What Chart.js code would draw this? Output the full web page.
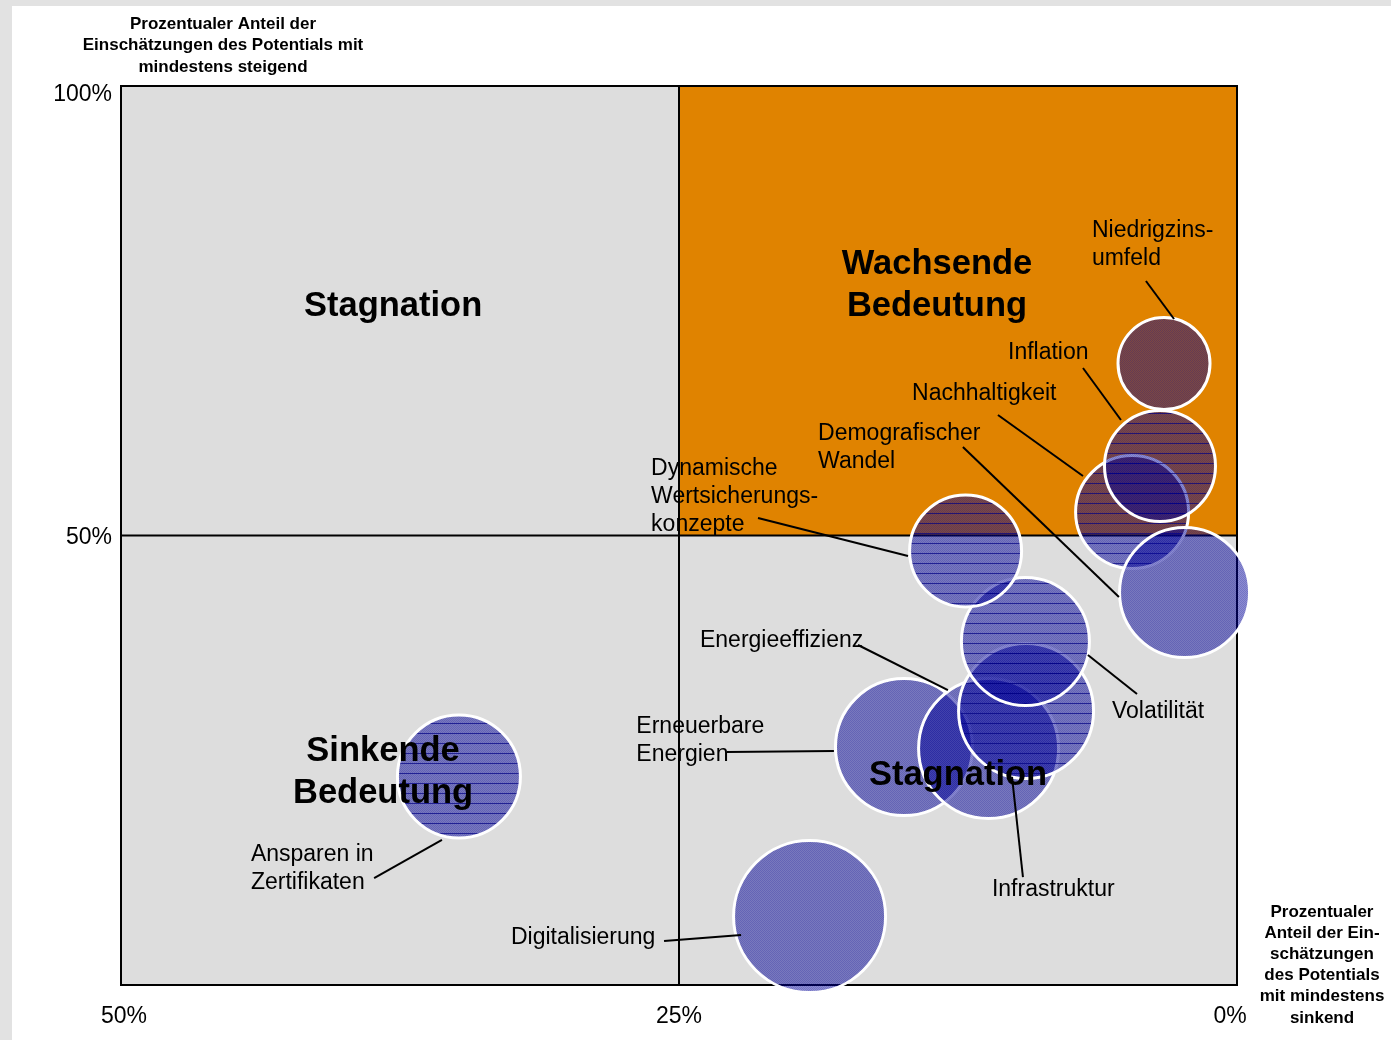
<!DOCTYPE html>
<html><head><meta charset="utf-8">
<script src="https://cdn.jsdelivr.net/npm/chart.js@4"></script>
<style>html,body{margin:0;padding:0;background:#fff;}canvas{display:block;}</style>
</head><body>
<canvas id="c" width="1391" height="1040"></canvas>
<script>
// ---- data (draw order) ----
const categories = ['Digitalisierung','Ansparen in Zertifikaten','Erneuerbare Energien','Energieeffizienz','Infrastruktur','Volatilität','Dynamische Wertsicherungskonzepte','Nachhaltigkeit','Demografischer Wandel','Inflation','Niedrigzinsumfeld'];
// x: % of estimates "at least falling" (axis reversed), y: % "at least rising"
const sinkendValues  = [19.15, 34.86, 14.92, 11.13, 9.45, 9.48, 12.16, 4.70, 2.35, 3.45, 3.27];
const steigendValues = [7.62, 23.19, 26.47, 26.31, 30.48, 38.21, 48.28, 52.61, 43.66, 57.73, 69.13];
const bubbleSizes    = [76, 61.5, 68.5, 70, 67.5, 64, 56, 56.5, 65, 55.5, 46];
const hatchedSeries  = [false, true, false, false, true, true, true, true, false, true, false];

// label texts (line-broken) with anchor of first line and leader line, in data units
const labelTexts = ['Digitalisierung', 'Ansparen in\nZertifikaten', 'Erneuerbare\nEnergien', 'Energieeffizienz', 'Infrastruktur', 'Volatilität', 'Dynamische\nWertsicherungs-\nkonzepte', 'Nachhaltigkeit', 'Demografischer\nWandel', 'Inflation', 'Niedrigzins-\numfeld'];
const labelX = [32.53, 44.18, 26.91, 24.06, 10.98, 5.60, 26.25, 14.56, 18.77, 10.26, 6.50];
const labelY = [5.45, 14.68, 28.92, 38.49, 10.79, 30.59, 57.62, 65.96, 61.51, 70.52, 84.09];
const leaderFrom = [[25.67,4.89],[38.66,11.90],[22.85,25.92],[16.98,37.82],[9.59,12.01],[4.48,32.37],[21.46,51.95],[10.71,63.40],[12.28,59.84],[6.90,68.63],[4.08,78.31]];
const leaderTo   = [[22.22,5.56],[35.62,16.13],[18.06,26.03],[12.95,32.81],[10.08,23.14],[6.68,36.71],[14.74,47.72],[6.90,56.62],[5.29,43.16],[5.20,62.85],[2.82,74.08]];

const quadrantTexts = ['Stagnation', 'Wachsende\nBedeutung', 'Sinkende\nBedeutung', 'Stagnation'];
const quadrantX = [37.81, 13.44, 38.26, 12.50];
const quadrantY = [75.75, 80.42, 26.25, 23.58];

const xTicks = [50, 25, 0];
const yTicks = [100, 50];
const xTickLabels = ['50%', '25%', '0%'];
const yTickLabels = ['100%', '50%'];
const yTitle = ['Prozentualer Anteil der', 'Einschätzungen des Potentials mit', 'mindestens steigend'];
const xTitle = ['Prozentualer', 'Anteil der Ein-', 'schätzungen', 'des Potentials', 'mit mindestens', 'sinkend'];

// ---- patterns ----
function makePattern(hatch) {
  const c = document.createElement('canvas');
  c.width = 2; c.height = hatch ? 10 : 2;
  const g = c.getContext('2d');
  for (let y = 0; y < c.height; y++) for (let x = 0; x < 2; x++) {
    g.fillStyle = ((x + y) % 2) ? 'rgba(0,0,150,0.45)' : 'rgba(0,0,150,0.55)';
    g.fillRect(x, y, 1, 1);
  }
  if (hatch) {
    g.clearRect(0, 3, 2, 1);
    g.fillStyle = 'rgba(0,0,135,0.85)';
    g.fillRect(0, 3, 2, 1);
  }
  return g.createPattern(c, 'repeat');
}
const plainFill = makePattern(false);
const hatchFill = makePattern(true);

const FONT = '"Liberation Sans", Arial, Helvetica, sans-serif';
const TY = 2; // baseline nudge

const backgroundPlugin = {
  id: 'bg',
  beforeDraw(chart) {
    const ctx = chart.ctx, a = chart.chartArea, xs = chart.scales.x, ys = chart.scales.y;
    ctx.save();
    ctx.fillStyle = '#ffffff'; ctx.fillRect(0, 0, chart.width, chart.height);
    ctx.fillStyle = '#e2e2e2';
    ctx.fillRect(0, 0, 12, chart.height);
    ctx.fillRect(0, 0, chart.width, 6);
    ctx.fillStyle = '#dddddd';
    ctx.fillRect(a.left, a.top, a.right - a.left, a.bottom - a.top);
    const xm = xs.getPixelForValue(25), ym = ys.getPixelForValue(50);
    ctx.fillStyle = '#e08300';
    ctx.fillRect(xm, a.top, a.right - xm, ym - a.top);
    ctx.strokeStyle = '#000'; ctx.lineWidth = 2;
    ctx.strokeRect(a.left, a.top, a.right - a.left, a.bottom - a.top);
    ctx.beginPath();
    ctx.moveTo(xm, a.top); ctx.lineTo(xm, a.bottom);
    ctx.moveTo(a.left, ym); ctx.lineTo(a.right, ym);
    ctx.stroke();
    ctx.restore();
  },
  afterDraw(chart) {
    const ctx = chart.ctx, a = chart.chartArea, xs = chart.scales.x, ys = chart.scales.y;
    ctx.save();
    ctx.fillStyle = '#000';
    // ticks
    ctx.font = '23px ' + FONT;
    ctx.textBaseline = 'middle';
    ctx.textAlign = 'right';
    yTicks.forEach((v, i) => {
      let y = ys.getPixelForValue(v);
      if (v === ys.max) y += 7;
      ctx.fillText(yTickLabels[i], a.left - 9, y + TY);
    });
    ctx.textAlign = 'center';
    xTicks.forEach((v, i) => {
      let x = xs.getPixelForValue(v);
      if (v === xs.max) x += 3;
      if (v === xs.min) x -= 7;
      ctx.fillText(xTickLabels[i], x, a.bottom + 30 + TY);
    });
    // axis titles
    ctx.font = 'bold 17px ' + FONT;
    yTitle.forEach((t, i) => ctx.fillText(t, 223, 23 + i * 21.5 + 1));
    xTitle.forEach((t, i) => ctx.fillText(t, 1322, 911 + i * 21.2 + 1));
    // leader lines
    ctx.strokeStyle = '#000'; ctx.lineWidth = 2;
    leaderFrom.forEach((p, i) => {
      ctx.beginPath();
      ctx.moveTo(xs.getPixelForValue(p[0]), ys.getPixelForValue(p[1]));
      ctx.lineTo(xs.getPixelForValue(leaderTo[i][0]), ys.getPixelForValue(leaderTo[i][1]));
      ctx.stroke();
    });
    // data labels
    ctx.font = '23px ' + FONT;
    ctx.textAlign = 'left';
    labelTexts.forEach((t, i) => {
      const x = xs.getPixelForValue(labelX[i]), y = ys.getPixelForValue(labelY[i]);
      t.split('\n').forEach((line, j) => ctx.fillText(line, x, y + j * 27.7 + TY));
    });
    // quadrant labels
    ctx.font = 'bold 34.5px ' + FONT;
    ctx.textAlign = 'center';
    quadrantTexts.forEach((t, i) => {
      const x = xs.getPixelForValue(quadrantX[i]), y = ys.getPixelForValue(quadrantY[i]);
      t.split('\n').forEach((line, j) => ctx.fillText(line, x, y + j * 42.5 + TY));
    });
    ctx.restore();
  }
};

new Chart(document.getElementById('c'), {
  type: 'bubble',
  data: {
    datasets: [{
      label: 'Potential',
      data: categories.map((c, i) => ({ x: sinkendValues[i], y: steigendValues[i], r: bubbleSizes[i] })),
      backgroundColor: ctx => hatchedSeries[ctx.dataIndex] ? hatchFill : plainFill,
      borderColor: '#ffffff',
      borderWidth: 3,
      hoverBorderWidth: 3,
      clip: false
    }]
  },
  options: {
    responsive: false,
    animation: false,
    devicePixelRatio: 1,
    layout: { autoPadding: false, padding: { left: 121, right: 154, top: 86, bottom: 55 } },
    scales: {
      x: { type: 'linear', min: 0, max: 50, reverse: true, display: false },
      y: { type: 'linear', min: 0, max: 100, display: false }
    },
    plugins: { legend: { display: false }, tooltip: { enabled: false } },
    events: []
  },
  plugins: [backgroundPlugin]
});
</script>
</body></html>
